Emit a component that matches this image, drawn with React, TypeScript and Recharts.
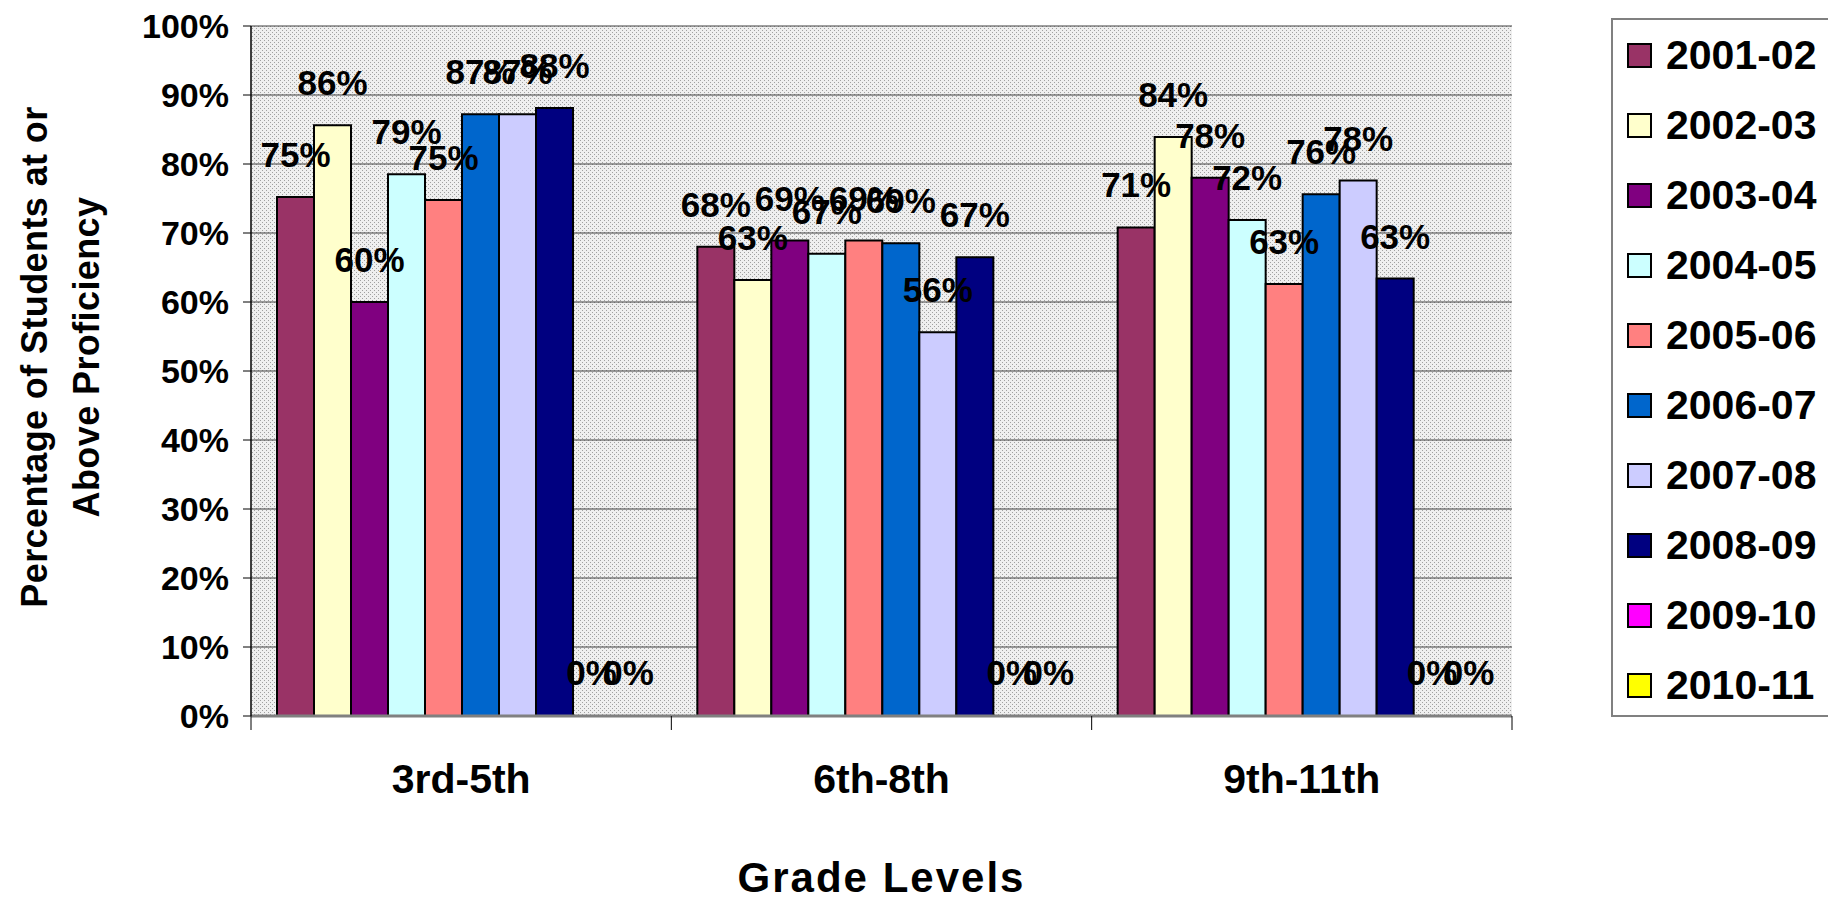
import React from 'react'
import {
  BarChart,
  Bar,
  XAxis,
  YAxis,
  CartesianGrid,
  Legend,
  LabelList,
} from 'recharts'

const categories = ['3rd-5th', '6th-8th', '9th-11th']
const seriesNames = [
  '2001-02', '2002-03', '2003-04', '2004-05', '2005-06',
  '2006-07', '2007-08', '2008-09', '2009-10', '2010-11',
]
const seriesColors = [
  '#993366', '#FFFFCC', '#800080', '#CCFFFF', '#FF8080',
  '#0066CC', '#CCCCFF', '#000080', '#FF00FF', '#FFFF00',
]
const v2001 = [75.2, 68.0, 70.8]
const v2002 = [85.6, 63.2, 83.9]
const v2003 = [60.0, 68.9, 78.0]
const v2004 = [78.5, 67.0, 71.9]
const v2005 = [74.8, 68.9, 62.6]
const v2006 = [87.2, 68.5, 75.6]
const v2007 = [87.2, 55.6, 77.6]
const v2008 = [88.1, 66.5, 63.4]
const v2009 = [0, 0, 0]
const v2010 = [0, 0, 0]
const seriesValues = [v2001, v2002, v2003, v2004, v2005, v2006, v2007, v2008, v2009, v2010]
const yTicks = [0, 10, 20, 30, 40, 50, 60, 70, 80, 90, 100]

const data = categories.map((category, i) => {
  const row: Record<string, string | number> = { category }
  seriesNames.forEach((name, s) => {
    row[name] = seriesValues[s][i]
  })
  return row
})

const FONT = '"Liberation Sans", Arial, sans-serif'

const CategoryTick = (props: any) => {
  const { x, y, payload, index, visibleTicksCount, width } = props
  const bw = (width || 1261) / (visibleTicksCount || 3)
  return (
    <g>
      <line x1={x - bw / 2} x2={x - bw / 2} y1={y} y2={y + 14} stroke="#000" strokeWidth={1} />
      {index === (visibleTicksCount || 3) - 1 && (
        <line x1={x + bw / 2} x2={x + bw / 2} y1={y} y2={y + 14} stroke="#000" strokeWidth={1} />
      )}
      <text
        x={x}
        y={y + 63}
        textAnchor="middle"
        dominantBaseline="central"
        fontFamily={FONT}
        fontWeight="bold"
        fontSize={41}
        fill="#000"
      >
        {payload.value}
      </text>
    </g>
  )
}

const YTitle = () => (
  <text
    transform="translate(61, 357) rotate(-90)"
    textAnchor="middle"
    fontFamily={FONT}
    fontWeight="bold"
    fontSize={36}
    letterSpacing={0.4}
    fill="#000"
  >
    <tspan x={0} dy={-14}>Percentage of Students at or</tspan>
    <tspan x={0} dy={52}>Above Proficiency</tspan>
  </text>
)

const LegendBox = () => (
  <div
    style={{
      width: 217,
      height: 699,
      boxSizing: 'border-box',
      border: '2px solid #808080',
      borderRight: 'none',
      background: '#fff',
      position: 'relative',
      fontFamily: FONT,
    }}
  >
    {seriesNames.map((name, i) => (
      <div
        key={name}
        style={{
          position: 'absolute',
          left: 14,
          top: 35 + i * 70 - 25,
          height: 50,
          display: 'flex',
          alignItems: 'center',
        }}
      >
        <div
          style={{
            width: 21,
            height: 21,
            background: seriesColors[i],
            border: '2px solid #000',
            marginRight: 14,
          }}
        />
        <span style={{ fontSize: 41, fontWeight: 'bold', color: '#000', lineHeight: 1 }}>{name}</span>
      </div>
    ))}
  </div>
)

const pctLabel = (v: any) => `${Math.round(Number(v))}%`

export default function App() {
  return (
    <div style={{ position: 'absolute', left: 0, top: 0, width: 1828, height: 900, background: '#fff' }}>
      <style>{'body{margin:0}'}</style>
      <BarChart
        width={1828}
        height={900}
        data={data}
        margin={{ top: 26, right: 99, bottom: 0, left: 0 }}
        barCategoryGap={26}
        barGap={0}
        style={{ fontFamily: FONT }}
      >
        <defs>
          <pattern id="dots" width="4" height="4" patternUnits="userSpaceOnUse">
            <rect width="4" height="4" fill="#efefef" />
            <rect x="0" y="0" width="1" height="1" fill="#a0a0a0" />
            <rect x="2" y="2" width="1" height="1" fill="#a0a0a0" />
          </pattern>
        </defs>
        <CartesianGrid
          vertical={false}
          stroke="#404040"
          strokeWidth={1.2}
          fill="url(#dots)"
          fillOpacity={1}
        />
        <XAxis
          dataKey="category"
          height={184}
          tickSize={0}
          tickMargin={0}
          tickLine={false}
          axisLine={{ stroke: '#808080', strokeWidth: 3 }}
          tick={<CategoryTick />}
          interval={0}
          label={{
            value: 'Grade Levels',
            position: 'insideBottom',
            offset: 8,
            fontFamily: FONT,
            fontWeight: 'bold',
            fontSize: 42,
            fill: '#000',
            letterSpacing: 2,
          }}
        />
        <XAxis
          xAxisId="top"
          dataKey="category"
          orientation="top"
          height={0}
          tick={false}
          tickLine={false}
          axisLine={{ stroke: '#808080', strokeWidth: 3 }}
        />
        <YAxis
          domain={[0, 100]}
          ticks={yTicks}
          width={251}
          tickSize={8}
          tickMargin={14}
          tickLine={{ stroke: '#000' }}
          axisLine={{ stroke: '#000', strokeWidth: 1.5 }}
          tickFormatter={(v) => `${v}%`}
          tick={{ fontFamily: FONT, fontWeight: 'bold', fontSize: 34, fill: '#000' }}
          label={<YTitle />}
        />
        <YAxis
          yAxisId="right"
          orientation="right"
          domain={[0, 100]}
          width={0}
          tick={false}
          tickLine={false}
          axisLine={{ stroke: '#808080', strokeWidth: 3 }}
        />
        <Legend
          layout="vertical"
          align="right"
          verticalAlign="top"
          content={<LegendBox />}
          wrapperStyle={{ left: 1611, top: 18, width: 217 }}
        />
        {seriesNames.map((name, i) => {
          const allZero = seriesValues[i].every((v) => v === 0)
          return (
            <Bar
              key={name}
              dataKey={name}
              fill={allZero ? 'none' : seriesColors[i]}
              stroke={allZero ? 'none' : '#000'}
              strokeWidth={2}
              minPointSize={allZero ? 1 : 0}
              isAnimationActive={false}
            >
              <LabelList
                dataKey={name}
                position="top"
                offset={30}
                formatter={pctLabel}
                style={{ fontFamily: FONT, fontWeight: 'bold', fontSize: 35, fill: '#000' }}
              />
            </Bar>
          )
        })}
      </BarChart>
    </div>
  )
}
